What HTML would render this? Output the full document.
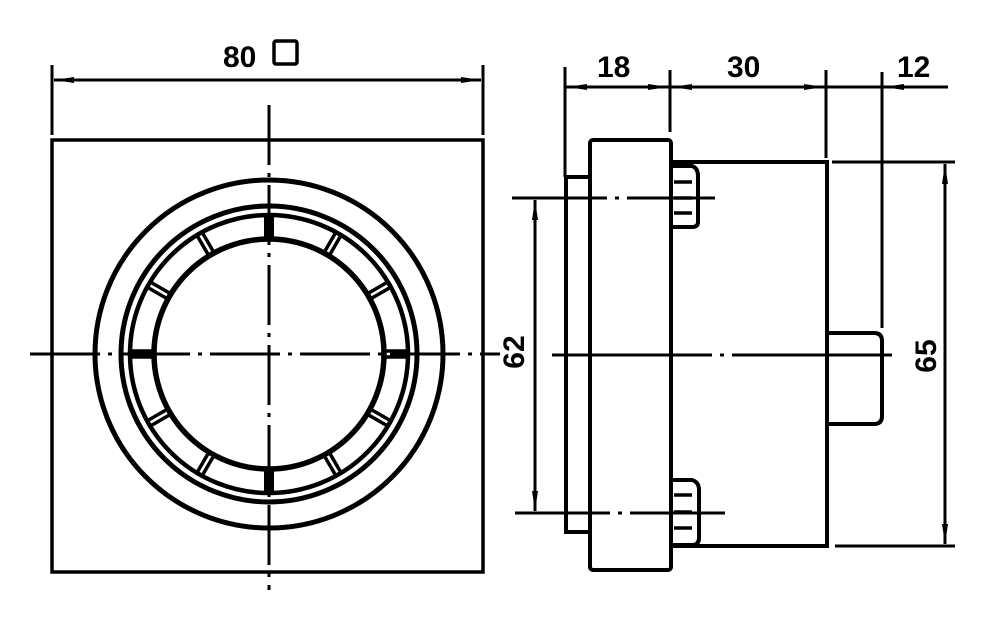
<!DOCTYPE html>
<html><head><style>html,body{margin:0;padding:0;background:#fff}svg{display:block}</style></head>
<body>
<svg width="999" height="630" viewBox="0 0 999 630" xmlns="http://www.w3.org/2000/svg">
<defs>
<marker id="a" viewBox="0 0 20 8" refX="20" refY="4" markerWidth="20" markerHeight="8" markerUnits="userSpaceOnUse" orient="auto-start-reverse"><path d="M0,1 L20,4 L0,7 z" fill="#000"/></marker>
<g id="slot"><line x1="-3" y1="-116" x2="-3" y2="-137" stroke="#000" stroke-width="3.5"/><line x1="3" y1="-116" x2="3" y2="-137" stroke="#000" stroke-width="3.5"/></g>
</defs>
<g fill="none" stroke="#000" stroke-width="3.5">
<rect x="52" y="140" width="431" height="432"/>
<circle cx="269" cy="354" r="174" stroke-width="5"/>
<circle cx="269" cy="354" r="148" stroke-width="5"/>
<circle cx="269" cy="354" r="139" stroke-width="4.5"/>
<circle cx="269" cy="354" r="115" stroke-width="5.5"/>
</g>
<g transform="translate(269,354)">
<use href="#slot" transform="rotate(30)"/><use href="#slot" transform="rotate(60)"/><use href="#slot" transform="rotate(90)"/>
<use href="#slot" transform="rotate(120)"/><use href="#slot" transform="rotate(150)"/>
<use href="#slot" transform="rotate(210)"/><use href="#slot" transform="rotate(240)"/><use href="#slot" transform="rotate(270)"/>
<use href="#slot" transform="rotate(300)"/><use href="#slot" transform="rotate(330)"/>
<rect x="-5" y="-139" width="10" height="24" fill="#000"/>
<rect x="-5" y="115" width="10" height="24" fill="#000"/>
</g>
<g stroke="#000" stroke-width="3" fill="none">
<line x1="269" y1="105" x2="269" y2="590" stroke-dasharray="60,8,4,8"/>
<line x1="30" y1="354" x2="500" y2="354" stroke-dasharray="70,8,4,8"/>
<line x1="52" y1="65" x2="52" y2="135"/>
<line x1="483" y1="65" x2="483" y2="135"/>
<line x1="54" y1="80" x2="481" y2="80" marker-start="url(#a)" marker-end="url(#a)"/>
</g>
<text x="223" y="67" font-family="Liberation Sans, sans-serif" font-size="30" font-weight="bold">80</text>
<rect x="274" y="41" width="23" height="23" rx="2" fill="none" stroke="#000" stroke-width="3.5"/>
<g fill="none" stroke="#000" stroke-width="4">
<rect x="590" y="140" width="81" height="430" rx="3"/>
<path d="M590,177 H566 V532 H590"/>
<path d="M671,162 H827 V546 H671"/>
<path d="M827,333 H874 Q882,333 882,341 V416 Q882,424 874,424 H827"/>
<path d="M671,166 H692 Q698,168 698,176 V222 Q698,227 692,227 H671"/>
<path d="M674,182 H692 M674,198 H692 M674,213 H692" stroke-width="3.5"/>
<path d="M671,480 H692 Q699,482 699,490 V538 Q699,545 692,545 H671"/>
<path d="M674,495 H692 M674,512 H692 M674,528 H692" stroke-width="3.5"/>
</g>
<g stroke="#000" stroke-width="3" fill="none">
<line x1="512" y1="198" x2="715" y2="198" stroke-dasharray="95,8,4,8"/>
<line x1="515" y1="513" x2="732" y2="513" stroke-dasharray="95,8,4,8"/>
<line x1="552" y1="355" x2="900" y2="355" stroke-dasharray="160,8,4,8"/>
<line x1="535" y1="200" x2="535" y2="511" marker-start="url(#a)" marker-end="url(#a)"/>
<line x1="832" y1="162" x2="955" y2="162"/>
<line x1="835" y1="546" x2="955" y2="546"/>
<line x1="945" y1="164" x2="945" y2="544" marker-start="url(#a)" marker-end="url(#a)"/>
<line x1="565" y1="67" x2="565" y2="177"/>
<line x1="670" y1="70" x2="670" y2="132"/>
<line x1="826" y1="70" x2="826" y2="158"/>
<line x1="882" y1="72" x2="882" y2="328"/>
<line x1="565" y1="87" x2="948" y2="87"/>
<line x1="567" y1="87" x2="668" y2="87" marker-start="url(#a)" marker-end="url(#a)"/>
<line x1="672" y1="87" x2="824" y2="87" marker-start="url(#a)" marker-end="url(#a)"/>
<line x1="910" y1="87" x2="884" y2="87" marker-end="url(#a)"/>
</g>
<g font-family="Liberation Sans, sans-serif" font-size="30" font-weight="bold">
<text x="597" y="77">18</text>
<text x="727" y="77">30</text>
<text x="897" y="77">12</text>
<text transform="translate(524,352) rotate(-90)" text-anchor="middle">62</text>
<text transform="translate(936,356) rotate(-90)" text-anchor="middle">65</text>
</g>
</svg>
</body></html>
